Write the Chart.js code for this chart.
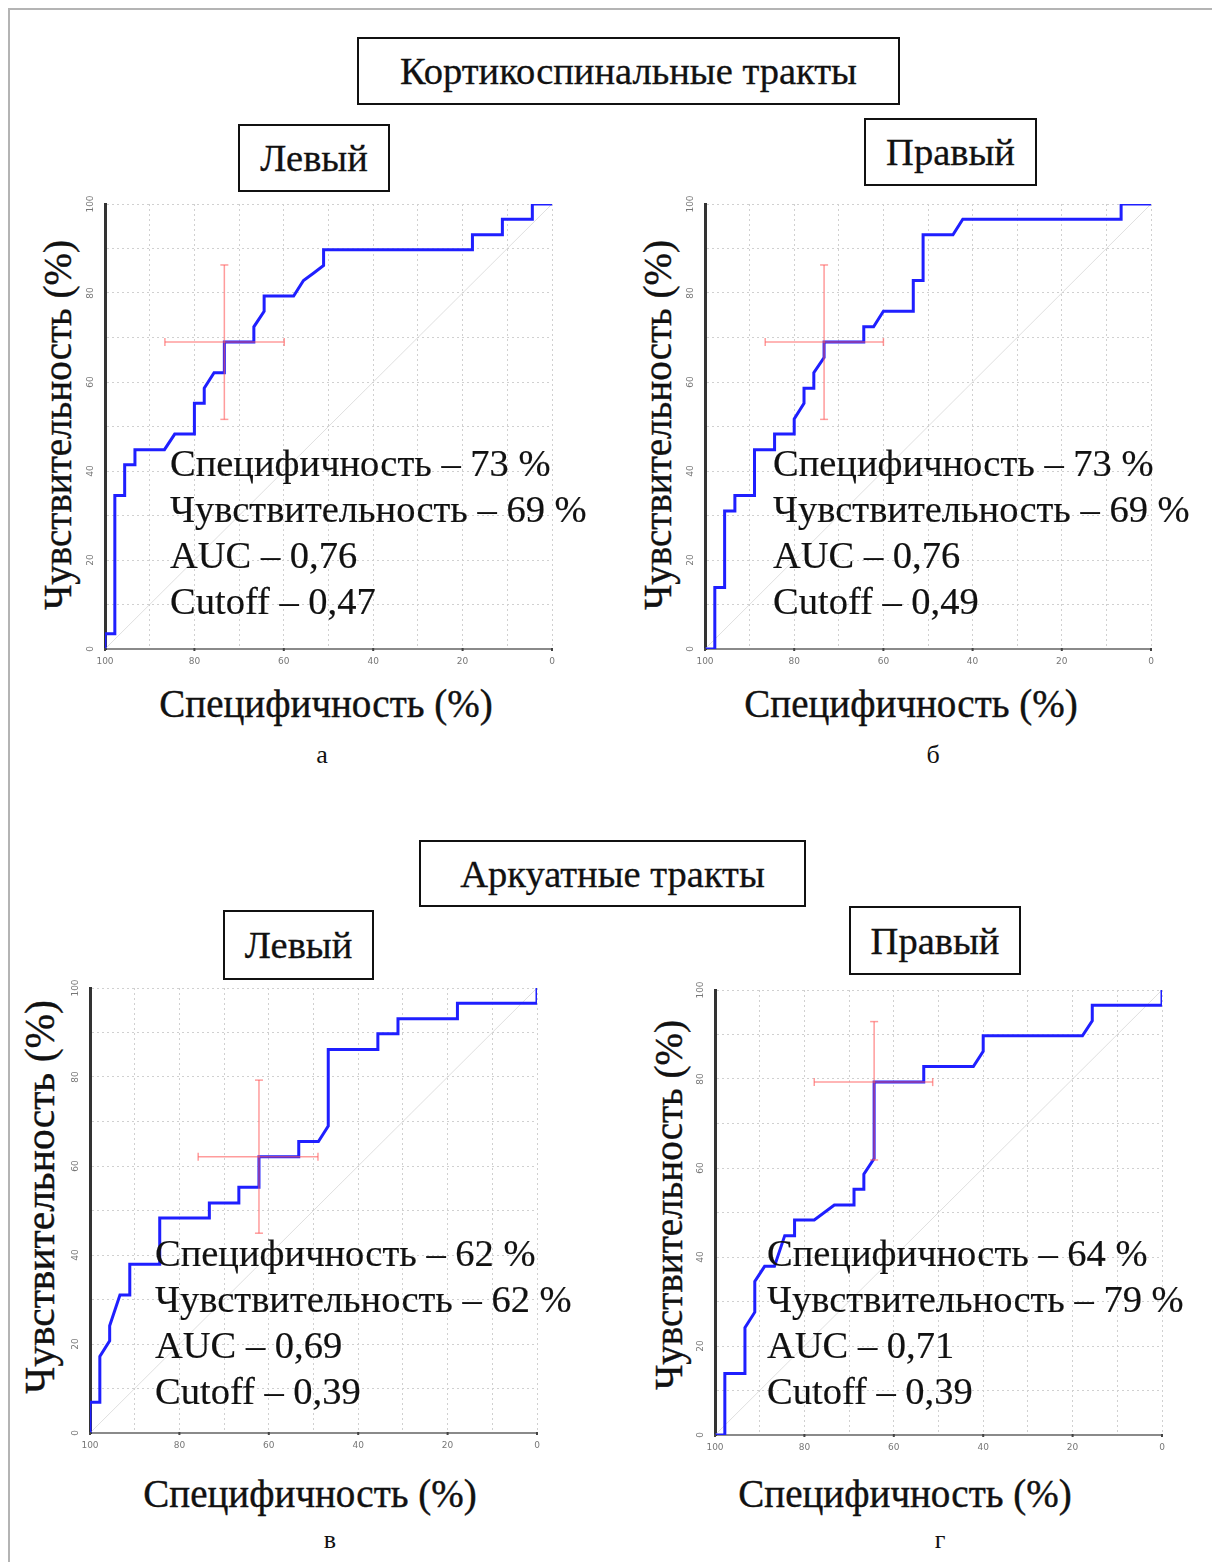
<!DOCTYPE html>
<html>
<head>
<meta charset="utf-8">
<script src="https://cdn.jsdelivr.net/npm/chart.js@4.4.0/dist/chart.umd.min.js"></script>
<style>
html, body { margin: 0; padding: 0; background: #fff; }
body { position: relative; width: 1212px; height: 1562px; overflow: hidden; font-family: "Liberation Serif", "DejaVu Serif", serif; color: #111; }
.frame { position: absolute; left: 8px; top: 8px; width: 1230px; height: 1580px; border: 2px solid #b4b4b4; }
.box { position: absolute; box-sizing: border-box; border: 2px solid #111; display: flex; align-items: center; justify-content: center; font-size: 38.5px; white-space: nowrap; -webkit-text-stroke: 0.3px #111; }
.ylab { position: absolute; font-size: 39px; white-space: nowrap; transform: translate(-50%, -50%) rotate(-90deg); -webkit-text-stroke: 0.4px #111; }
.xlab { position: absolute; font-size: 39px; white-space: nowrap; transform: translate(-50%, -50%); -webkit-text-stroke: 0.4px #111; }
.sub { position: absolute; font-size: 26px; transform: translate(-50%, -50%); }
.note { position: absolute; font-size: 38.5px; line-height: 46px; white-space: nowrap; -webkit-text-stroke: 0.2px #111; }
canvas { position: absolute; }
</style>
</head>
<body>
<div class="frame"></div>
<div id="root"></div>
<script>
// ---------------- TICKS ----------------
const xTicks = [100, 80, 60, 40, 20, 0];
const yTicks = [0, 20, 40, 60, 80, 100];

// ---------------- CURVES (specificity %, sensitivity %) ----------------
// а – кортикоспинальный, левый
const aSpec = [100, 100, 97.8, 97.8, 95.6, 95.6, 93.3, 93.3, 86.7, 84.4, 80, 80, 77.8, 77.8, 75.6, 73.3, 73.3, 66.7, 66.7, 64.4, 64.4, 57.8, 55.6, 53.3, 51.1, 51.1, 17.8, 17.8, 11.1, 11.1, 4.4, 4.4, 0];
const aSens = [0, 3.4, 3.4, 34.5, 34.5, 41.4, 41.4, 44.8, 44.8, 48.3, 48.3, 55.2, 55.2, 58.6, 62.1, 62.1, 69, 69, 72.4, 75.9, 79.3, 79.3, 82.8, 84.5, 86.2, 89.7, 89.7, 93.1, 93.1, 96.6, 96.6, 100, 100];

// б – кортикоспинальный, правый
const bSpec = [100, 97.8, 97.8, 95.6, 95.6, 93.3, 93.3, 88.9, 88.9, 84.4, 84.4, 80, 80, 77.8, 77.8, 75.6, 75.6, 73.3, 73.3, 64.4, 64.4, 62.2, 60, 53.3, 53.3, 51.1, 51.1, 44.4, 42.2, 6.7, 6.7, 0];
const bSens = [0, 0, 13.8, 13.8, 31, 31, 34.5, 34.5, 44.8, 44.8, 48.3, 48.3, 51.7, 55.2, 58.6, 58.6, 62.1, 65.5, 69, 69, 72.4, 72.4, 75.9, 75.9, 82.8, 82.8, 93.1, 93.1, 96.6, 96.6, 100, 100];

// в – аркуатный, левый
const cSpec = [100, 100, 97.8, 97.8, 95.6, 95.6, 93.3, 91.1, 91.1, 84.4, 84.4, 73.3, 73.3, 66.7, 66.7, 62.2, 62.2, 53.3, 53.3, 48.9, 46.7, 46.7, 35.6, 35.6, 31.1, 31.1, 17.8, 17.8, 0, 0];
const cSens = [0, 6.9, 6.9, 17.2, 20.7, 24.1, 31, 31, 37.9, 37.9, 48.3, 48.3, 51.7, 51.7, 55.2, 55.2, 62.1, 62.1, 65.5, 65.5, 69, 86.2, 86.2, 89.7, 89.7, 93.1, 93.1, 96.6, 96.6, 100];

// г – аркуатный, правый
const dSpec = [100, 97.8, 97.8, 93.3, 93.3, 91.1, 91.1, 88.9, 86.7, 84.4, 82.2, 82.2, 77.8, 73.3, 68.9, 68.9, 66.7, 66.7, 64.4, 64.4, 53.3, 53.3, 42.2, 40, 40, 17.8, 15.6, 15.6, 0, 0];
const dSens = [0, 0, 13.8, 13.8, 24.1, 27.6, 34.5, 37.9, 37.9, 44.8, 44.8, 48.3, 48.3, 51.7, 51.7, 55.2, 55.2, 58.6, 62.1, 79.3, 79.3, 82.8, 82.8, 86.2, 89.7, 89.7, 93.1, 96.6, 96.6, 100];

// ---------------- CUT-OFF CROSSES: [centre, from, to] ----------------
const aCrossSpec = [73.3, 86.6, 59.9];
const aCrossSens = [69, 86.3, 51.6];
const bCrossSpec = [73.3, 86.5, 60];
const bCrossSens = [69, 86.3, 51.6];
const cCrossSpec = [62.2, 75.8, 49];
const cCrossSens = [62.1, 79.3, 44.9];
const dCrossSpec = [64.4, 77.8, 51.3];
const dCrossSens = [79.3, 92.9, 61.8];

// ---------------- TEXTS ----------------
const aNotes = ["Специфичность – 73 %", "Чувствительность – 69 %", "AUC – 0,76", "Cutoff – 0,47"];
const bNotes = ["Специфичность – 73 %", "Чувствительность – 69 %", "AUC – 0,76", "Cutoff – 0,49"];
const cNotes = ["Специфичность – 62 %", "Чувствительность – 62 %", "AUC – 0,69", "Cutoff – 0,39"];
const dNotes = ["Специфичность – 64 %", "Чувствительность – 79 %", "AUC – 0,71", "Cutoff – 0,39"];

// ---------------- LAYOUT ----------------
const panels = [
  { spec: aSpec, sens: aSens, cx: aCrossSpec, cy: aCrossSens, notes: aNotes, side: "Левый",
    area: { l: 105, t: 204, r: 552, b: 649 }, sideBox: [238, 124, 152, 68], ylab: [57, 425, 39], xlab: [326, 703], sub: ["а", 322, 755], note: [170, 440] },
  { spec: bSpec, sens: bSens, cx: bCrossSpec, cy: bCrossSens, notes: bNotes, side: "Правый",
    area: { l: 705, t: 204, r: 1151, b: 649 }, sideBox: [864, 118, 173, 68], ylab: [657, 425, 39], xlab: [911, 703], sub: ["б", 933, 755], note: [773, 440] },
  { spec: cSpec, sens: cSens, cx: cCrossSpec, cy: cCrossSens, notes: cNotes, side: "Левый",
    area: { l: 90, t: 988, r: 537, b: 1433 }, sideBox: [223, 910, 151, 70], ylab: [40, 1197, 41.5], xlab: [310, 1493], sub: ["в", 330, 1540], note: [155, 1230] },
  { spec: dSpec, sens: dSens, cx: dCrossSpec, cy: dCrossSens, notes: dNotes, side: "Правый",
    area: { l: 715, t: 990, r: 1162, b: 1435 }, sideBox: [849, 906, 172, 69], ylab: [668, 1205, 39], xlab: [905, 1493], sub: ["г", 940, 1540], note: [767, 1230] }
];

const groupTitles = [
  ["Кортикоспинальные тракты", 357, 37, 543, 68],
  ["Аркуатные тракты", 419, 840, 387, 67]
];

const PAD = { left: 30, top: 15, right: 20, bottom: 30 };
const root = document.getElementById("root");

const addBox = (text, l, t, w, h) => {
  const d = document.createElement("div");
  d.className = "box";
  d.style.cssText = `left:${l}px;top:${t}px;width:${w}px;height:${h}px;`;
  d.textContent = text;
  root.appendChild(d);
};
const addText = (cls, text, x, y) => {
  const d = document.createElement("div");
  d.className = cls;
  d.style.left = x + "px";
  d.style.top = y + "px";
  d.textContent = text;
  root.appendChild(d);
  return d;
};

groupTitles.forEach(g => addBox(...g));

// tick labels in the MedCalc style: tiny grey, y labels turned
const tickText = {
  id: "tickText",
  afterDraw(chart) {
    const { ctx, chartArea, scales: { x, y } } = chart;
    ctx.save();
    ctx.font = "9px 'DejaVu Sans'";
    ctx.fillStyle = "#777";
    ctx.textAlign = "center";
    ctx.textBaseline = "middle";
    xTicks.forEach(v => {
      const px = x.getPixelForValue(v);
      ctx.fillText(String(v), px, chartArea.bottom + 13);
      ctx.fillStyle = "#444";
      ctx.fillRect(px - 1, chartArea.bottom - 1, 2, 3);
      ctx.fillStyle = "#777";
    });
    yTicks.forEach(v => {
      ctx.save();
      ctx.translate(chartArea.left - 14, y.getPixelForValue(v));
      ctx.rotate(-Math.PI / 2);
      ctx.fillText(String(v), 0, 0);
      ctx.restore();
    });
    ctx.restore();
  }
};

const RED = "rgba(255, 90, 90, 0.6)";
const BLUE = "#1f1fff";

panels.forEach(p => {
  addBox(p.side, ...p.sideBox);
  addText("ylab", "Чувствительность (%)", p.ylab[0], p.ylab[1]).style.fontSize = p.ylab[2] + "px";
  addText("xlab", "Специфичность (%)", p.xlab[0], p.xlab[1]);
  addText("sub", p.sub[0], p.sub[1], p.sub[2]);

  const w = p.area.r - p.area.l + PAD.left + PAD.right;
  const h = p.area.b - p.area.t + PAD.top + PAD.bottom;
  const canvas = document.createElement("canvas");
  canvas.width = w;
  canvas.height = h;
  canvas.style.left = (p.area.l - PAD.left) + "px";
  canvas.style.top = (p.area.t - PAD.top) + "px";
  root.appendChild(canvas);

  const curve = p.spec.map((s, i) => ({ x: s, y: p.sens[i] }));
  const crossH = [{ x: p.cx[1], y: p.cy[0] }, { x: p.cx[2], y: p.cy[0] }];
  const crossV = [{ x: p.cx[0], y: p.cy[1] }, { x: p.cx[0], y: p.cy[2] }];
  const diag = [{ x: 100, y: 0 }, { x: 0, y: 100 }];

  new Chart(canvas.getContext("2d"), {
    type: "line",
    data: {
      datasets: [
        { data: crossH, borderColor: RED, borderWidth: 1.5, pointStyle: "line", pointRadius: 4,
          pointRotation: 90, pointBorderColor: RED, pointBorderWidth: 1.5, order: 0 },
        { data: crossV, borderColor: RED, borderWidth: 1.5, pointStyle: "line", pointRadius: 4,
          pointRotation: 0, pointBorderColor: RED, pointBorderWidth: 1.5, order: 1 },
        { data: curve, borderColor: BLUE, borderWidth: 3, pointRadius: 0, tension: 0, order: 2 },
        { data: diag, borderColor: "rgba(210, 210, 210, 0.7)", borderWidth: 1, pointRadius: 0, order: 3 }
      ]
    },
    options: {
      responsive: false,
      animation: false,
      events: [],
      layout: { padding: PAD },
      plugins: { legend: { display: false }, tooltip: { enabled: false } },
      scales: {
        x: {
          type: "linear", reverse: true, min: 0, max: 100,
          ticks: { display: false, stepSize: 10 },
          grid: { color: "#d0d0d0", lineWidth: 1, drawTicks: false },
          border: { display: true, color: "#8a8a8a", width: 2, dash: [2, 3] }
        },
        y: {
          type: "linear", min: 0, max: 100,
          ticks: { display: false, stepSize: 10 },
          grid: { color: "#d0d0d0", lineWidth: 1, drawTicks: false },
          border: { display: true, color: "#333", width: 3, dash: [2, 3] }
        }
      }
    },
    plugins: [tickText]
  });

  const n = document.createElement("div");
  n.className = "note";
  n.style.left = p.note[0] + "px";
  n.style.top = p.note[1] + "px";
  n.innerHTML = p.notes.join("<br>");
  root.appendChild(n);
});
</script>
</body>
</html>
